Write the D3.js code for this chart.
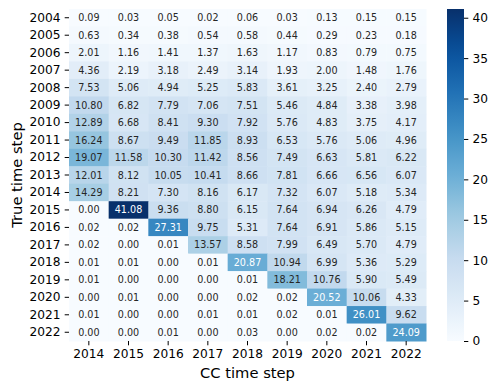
<!DOCTYPE html>
<html>
<head>
<meta charset="utf-8">
<script src="https://cdn.jsdelivr.net/npm/d3@7"></script>
<style>
  body { margin: 0; background: #fff; }
  text { font-family: "DejaVu Sans", sans-serif; }
</style>
</head>
<body>
<div id="chart"></div>
<script>
const trueSteps = ["2004","2005","2006","2007","2008","2009","2010","2011","2012","2013",
                   "2014","2015","2016","2017","2018","2019","2020","2021","2022"];
const ccSteps = ["2014","2015","2016","2017","2018","2019","2020","2021","2022"];
const values = [
  [0.09, 0.03, 0.05, 0.02, 0.06, 0.03, 0.13, 0.15, 0.15],
  [0.63, 0.34, 0.38, 0.54, 0.58, 0.44, 0.29, 0.23, 0.18],
  [2.01, 1.16, 1.41, 1.37, 1.63, 1.17, 0.83, 0.79, 0.75],
  [4.36, 2.19, 3.18, 2.49, 3.14, 1.93, 2.00, 1.48, 1.76],
  [7.53, 5.06, 4.94, 5.25, 5.83, 3.61, 3.25, 2.40, 2.79],
  [10.80, 6.82, 7.79, 7.06, 7.51, 5.46, 4.84, 3.38, 3.98],
  [12.89, 6.68, 8.41, 9.30, 7.92, 5.76, 4.83, 3.75, 4.17],
  [16.24, 8.67, 9.49, 11.85, 8.93, 6.53, 5.76, 5.06, 4.96],
  [19.07, 11.58, 10.30, 11.42, 8.56, 7.49, 6.63, 5.81, 6.22],
  [12.01, 8.12, 10.05, 10.41, 8.66, 7.81, 6.66, 6.56, 6.07],
  [14.29, 8.21, 7.30, 8.16, 6.17, 7.32, 6.07, 5.18, 5.34],
  [0.00, 41.08, 9.36, 8.80, 6.15, 7.64, 6.94, 6.26, 4.79],
  [0.02, 0.02, 27.31, 9.75, 5.31, 7.64, 6.91, 5.86, 5.15],
  [0.02, 0.00, 0.01, 13.57, 8.58, 7.99, 6.49, 5.70, 4.79],
  [0.01, 0.01, 0.00, 0.01, 20.87, 10.94, 6.99, 5.36, 5.29],
  [0.01, 0.00, 0.00, 0.00, 0.01, 18.21, 10.76, 5.90, 5.49],
  [0.00, 0.01, 0.00, 0.00, 0.02, 0.02, 20.52, 10.06, 4.33],
  [0.01, 0.00, 0.00, 0.01, 0.01, 0.02, 0.01, 26.01, 9.62],
  [0.00, 0.00, 0.01, 0.00, 0.03, 0.00, 0.02, 0.02, 24.09]
];
const colorbarTicks = [0, 5, 10, 15, 20, 25, 30, 35, 40];

const width = 498, height = 391;
const margin = { left: 69, top: 9, right: 426, bottom: 341 };
const tick = 4.3, fsTick = 12.2, fsLabel = 14.7, fsAnnot = 9.6;

const svg = d3.select("#chart").append("svg")
  .attr("width", width)
  .attr("height", height);

const x = d3.scaleBand().domain(ccSteps).range([margin.left, margin.right]);
const y = d3.scaleBand().domain(trueSteps).range([margin.top, margin.bottom]);

// matplotlib "Blues"
const bluesStops = ["#f7fbff","#deebf7","#c6dbef","#9ecae1","#6baed6","#4292c6","#2171b5","#08519c","#08306b"];
const vmax = d3.max(values.flat());
const color = d3.scaleLinear()
  .domain(bluesStops.map((_, i) => vmax * i / (bluesStops.length - 1)))
  .range(bluesStops)
  .interpolate(d3.interpolateRgb);

function luminance(c) {
  const rgb = d3.rgb(c);
  const f = v => { v /= 255; return v <= 0.03928 ? v / 12.92 : Math.pow((v + 0.055) / 1.055, 2.4); };
  return 0.2126 * f(rgb.r) + 0.7152 * f(rgb.g) + 0.0722 * f(rgb.b);
}

const cells = [];
values.forEach((row, i) => row.forEach((v, j) => cells.push({ r: trueSteps[i], c: ccSteps[j], v })));

svg.append("g").selectAll("rect")
  .data(cells)
  .enter()
  .append("rect")
  .attr("x", d => x(d.c))
  .attr("y", d => y(d.r))
  .attr("width", x.bandwidth() + 0.5)
  .attr("height", y.bandwidth() + 0.5)
  .attr("fill", d => color(d.v));

svg.append("g").selectAll("text")
  .data(cells)
  .enter()
  .append("text")
  .attr("x", d => x(d.c) + x.bandwidth() / 2)
  .attr("y", d => y(d.r) + y.bandwidth() / 2)
  .attr("text-anchor", "middle")
  .attr("dominant-baseline", "central")
  .attr("font-size", fsAnnot)
  .attr("fill", d => luminance(color(d.v)) > 0.408 ? "#262626" : "#ffffff")
  .text(d => d.v.toFixed(2));

// axes
const xAxis = svg.append("g")
  .attr("transform", `translate(0,${margin.bottom})`)
  .call(d3.axisBottom(x).tickSize(tick).tickPadding(tick));
const yAxis = svg.append("g")
  .attr("transform", `translate(${margin.left},0)`)
  .call(d3.axisLeft(y).tickSize(tick).tickPadding(tick));
[xAxis, yAxis].forEach(g => {
  g.select(".domain").remove();
  g.selectAll("text").attr("font-size", fsTick).attr("fill", "#000")
    .style("font-family", "DejaVu Sans, sans-serif");
  g.selectAll("line").attr("stroke", "#000").attr("stroke-width", 1);
});

svg.append("text")
  .attr("x", (margin.left + margin.right) / 2)
  .attr("y", 378)
  .attr("text-anchor", "middle")
  .attr("font-size", fsLabel)
  .text("CC time step");

svg.append("text")
  .attr("transform", `translate(16,${(margin.top + margin.bottom) / 2}) rotate(-90)`)
  .attr("text-anchor", "middle")
  .attr("dominant-baseline", "central")
  .attr("font-size", fsLabel)
  .text("True time step");

// colorbar
const cbX = 447, cbW = 17;
const cbScale = d3.scaleLinear().domain([0, vmax]).range([margin.bottom, margin.top]);
const defs = svg.append("defs");
const grad = defs.append("linearGradient")
  .attr("id", "cbgrad")
  .attr("x1", 0).attr("y1", 1).attr("x2", 0).attr("y2", 0);
d3.range(0, 1.0001, 0.05).forEach(t => {
  grad.append("stop").attr("offset", t).attr("stop-color", color(t * vmax));
});
svg.append("rect")
  .attr("x", cbX)
  .attr("y", margin.top)
  .attr("width", cbW)
  .attr("height", margin.bottom - margin.top)
  .attr("fill", "url(#cbgrad)");

const cbAxis = svg.append("g")
  .attr("transform", `translate(${cbX + cbW},0)`)
  .call(d3.axisRight(cbScale).tickValues(colorbarTicks).tickSize(tick).tickPadding(tick));
cbAxis.select(".domain").remove();
cbAxis.selectAll("text").attr("font-size", fsTick).attr("fill", "#000")
  .style("font-family", "DejaVu Sans, sans-serif");
cbAxis.selectAll("line").attr("stroke", "#000").attr("stroke-width", 1);
</script>
</body>
</html>
